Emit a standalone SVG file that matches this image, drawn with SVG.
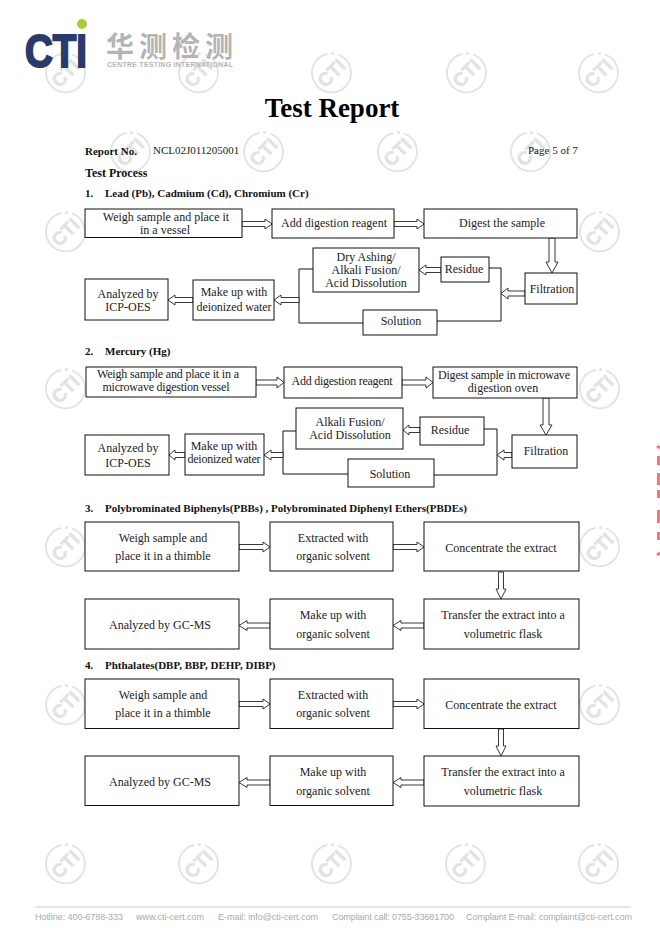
<svg xmlns="http://www.w3.org/2000/svg" xmlns:xlink="http://www.w3.org/1999/xlink" width="660" height="940" viewBox="0 0 660 940">
<style>
.b{fill:#fff;stroke:#111;stroke-width:1}
.t{font:12px "Liberation Serif",serif;fill:#222;text-anchor:middle}
.h{font:bold 11px "Liberation Serif",serif;fill:#111}
.n{font:11px "Liberation Serif",serif;fill:#222}
.a{fill:#fff;stroke:#222;stroke-width:.9}
.l{fill:none;stroke:#111;stroke-width:1}
.f{font:9px "Liberation Sans",sans-serif;fill:#aaa}
.wm text{font:bold 19px "Liberation Sans",sans-serif;fill:#e2e2e2;stroke:#e2e2e2;stroke-width:.5;text-anchor:middle}
</style>
<defs>
<g id="w" class="wm"><path d="M7 -18.500A19.500 19.500 0 1 1 -3.500 -19.200" fill="none" stroke="#e2e2e2" stroke-width="1.800"/><circle cx="1.500" cy="-19.500" r="1.500" fill="#e2e2e2"/><text transform="rotate(-45)" y="7">CTI</text></g>
</defs>
<rect width="660" height="940" fill="#fff"/>
<g id="watermarks">
<use xlink:href="#w" x="65" y="73"/><use xlink:href="#w" x="198" y="73"/><use xlink:href="#w" x="331" y="73"/><use xlink:href="#w" x="466" y="73"/><use xlink:href="#w" x="598" y="73"/>
<use xlink:href="#w" x="130" y="152"/><use xlink:href="#w" x="263" y="152"/><use xlink:href="#w" x="397" y="152"/><use xlink:href="#w" x="530" y="152"/>
<use xlink:href="#w" x="65" y="232"/><use xlink:href="#w" x="599" y="232"/>
<use xlink:href="#w" x="65" y="389"/><use xlink:href="#w" x="599" y="389"/>
<use xlink:href="#w" x="65" y="547"/><use xlink:href="#w" x="599" y="547"/>
<use xlink:href="#w" x="65" y="705"/><use xlink:href="#w" x="599" y="705"/>
<use xlink:href="#w" x="65" y="864"/><use xlink:href="#w" x="198" y="864"/><use xlink:href="#w" x="331" y="864"/><use xlink:href="#w" x="465" y="864"/><use xlink:href="#w" x="598" y="864"/>
</g>
<g id="logo">
<text x="25" y="67" font-family="Liberation Sans,sans-serif" font-weight="bold" font-size="46" fill="#2a3a6b" stroke="#2a3a6b" stroke-width="2" textLength="62" lengthAdjust="spacingAndGlyphs">CTI</text>
<circle cx="82" cy="24" r="5" fill="#a6ce39"/>
<text x="106" y="57" font-family="Noto Sans CJK SC,sans-serif" font-weight="700" font-size="28" fill="#b4b4b4" textLength="127">华测检测</text>
<text x="107" y="67" font-family="Liberation Sans,sans-serif" font-weight="bold" font-size="7" fill="#b4b4b4" textLength="126">CENTRE TESTING INTERNATIONAL</text>
</g>
<text x="332" y="117" font-family="Liberation Serif,serif" font-weight="bold" font-size="27" text-anchor="middle" fill="#000">Test Report</text>
<text class="h" x="85" y="155">Report No.</text>
<text class="n" x="153" y="154">NCL02J011205001</text>
<text class="n" x="528" y="154">Page 5 of 7</text>
<text class="h" x="85" y="177" style="font-size:12px">Test Process</text>
<text class="h" x="85" y="197">1.</text><text class="h" x="105" y="197">Lead (Pb), Cadmium (Cd), Chromium (Cr)</text>
<text class="h" x="85" y="355">2.</text><text class="h" x="105" y="355">Mercury (Hg)</text>
<text class="h" x="85" y="512">3.</text><text class="h" x="105" y="512">Polybrominated Biphenyls(PBBs) , Polybrominated Diphenyl Ethers(PBDEs)</text>
<text class="h" x="85" y="669">4.</text><text class="h" x="105" y="669">Phthalates(DBP, BBP, DEHP, DIBP)</text>

<g id="connectors">
<path class="l" d="M313 269H299V323H363M489 268H501V321H437"/>
<path class="l" d="M296 431H283V474H348M484 429H497V475H434"/>
<polygon class="a" points="242,221.500 265,221.500 265,219 272,224 265,229 265,226.500 242,226.500"/>
<polygon class="a" points="394,221.500 417,221.500 417,219 424,224 417,229 417,226.500 394,226.500"/>
<polygon class="a" points="549,238 555,238 555,262 558,262 552,273 546,262 549,262"/>
<polygon class="a" points="525,291 508,291 508,288 501,293.500 508,299 508,296 525,296"/>
<polygon class="a" points="441,267.500 426,267.500 426,265 419,270 426,275 426,272.500 441,272.500"/>
<polygon class="a" points="299,297.500 281,297.500 281,295 274,300 281,305 281,302.500 299,302.500"/>
<polygon class="a" points="193,297.500 175,297.500 175,295 168,300 175,305 175,302.500 193,302.500"/>
<polygon class="a" points="256,380 277,380 277,377 284,382.500 277,388 277,385 256,385"/>
<polygon class="a" points="402,380 426,380 426,377 433,382.500 426,388 426,385 402,385"/>
<polygon class="a" points="543,398 549,398 549,425 552,425 546,435 540,425 543,425"/>
<polygon class="a" points="512,452.500 504,452.500 504,450 497,455 504,460 504,457.500 512,457.500"/>
<polygon class="a" points="420,427.500 409,427.500 409,425 403,430 409,435 409,432.500 420,432.500"/>
<polygon class="a" points="283,452.500 271,452.500 271,450 264,455 271,460 271,457.500 283,457.500"/>
<polygon class="a" points="185,452.500 175,452.500 175,450 169,455 175,460 175,457.500 185,457.500"/>
<polygon class="a" points="239,544.500 263,544.500 263,542 270,547 263,552 263,549.500 239,549.500"/>
<polygon class="a" points="393,544.500 417,544.500 417,542 424,547 417,552 417,549.500 393,549.500"/>
<polygon class="a" points="498.500,572 503.500,572 503.500,589 506,589 501,599 496,589 498.500,589"/>
<polygon class="a" points="424,623 401,623 401,620.500 393,625.500 401,630.500 401,628 424,628"/>
<polygon class="a" points="270,623 247,623 247,620.500 239,625.500 247,630.500 247,628 270,628"/>
<polygon class="a" points="239,701.500 263,701.500 263,699 270,704 263,709 263,706.500 239,706.500"/>
<polygon class="a" points="393,701.500 417,701.500 417,699 424,704 417,709 417,706.500 393,706.500"/>
<polygon class="a" points="498.500,729 503.500,729 503.500,746 506,746 501,756 496,746 498.500,746"/>
<polygon class="a" points="424,780 401,780 401,777.500 393,782.500 401,787.500 401,785 424,785"/>
<polygon class="a" points="270,780 247,780 247,777.500 239,782.500 247,787.500 247,785 270,785"/>
</g>

<g id="n1-1"><rect class="b" x="85" y="209" width="157" height="28.500"/><text class="t" x="166" y="221">Weigh sample and place it</text><text class="t" x="165" y="234">in a vessel</text></g>
<g id="n1-2"><rect class="b" x="272" y="209" width="122" height="29"/><text class="t" x="334" y="227">Add digestion reagent</text></g>
<g id="n1-3"><rect class="b" x="424" y="209" width="153" height="29"/><text class="t" x="502" y="227">Digest the sample</text></g>
<g id="n1-4"><rect class="b" x="313" y="248" width="106" height="44"/><text class="t" x="366" y="261">Dry Ashing/</text><text class="t" x="366" y="274">Alkali Fusion/</text><text class="t" x="366" y="287">Acid Dissolution</text></g>
<g id="n1-5"><rect class="b" x="441" y="257" width="48" height="25"/><text class="t" x="464" y="273">Residue</text></g>
<g id="n1-6"><rect class="b" x="525" y="273" width="52" height="31"/><text class="t" x="552" y="293">Filtration</text></g>
<g id="n1-7"><rect class="b" x="363" y="310" width="74" height="25"/><text class="t" x="401" y="325">Solution</text></g>
<g id="n1-8"><rect class="b" x="193" y="280" width="81" height="40"/><text class="t" x="234" y="296">Make up with</text><text class="t" x="234" y="311" textLength="75">deionized water</text></g>
<g id="n1-9"><rect class="b" x="85" y="279" width="83" height="41"/><text class="t" x="128" y="298">Analyzed by</text><text class="t" x="128" y="311">ICP-OES</text></g>

<g id="n2-1"><rect class="b" x="86" y="367" width="170" height="30"/><text class="t" x="168" y="378" textLength="142">Weigh sample and place it in a</text><text class="t" x="166" y="391" textLength="127">microwave digestion vessel</text></g>
<g id="n2-2"><rect class="b" x="284" y="367" width="118" height="31"/><text class="t" x="342" y="385" textLength="101">Add digestion reagent</text></g>
<g id="n2-3"><rect class="b" x="433" y="367" width="144" height="31"/><text class="t" x="504" y="379" textLength="132">Digest sample in microwave</text><text class="t" x="503" y="392">digestion oven</text></g>
<g id="n2-4"><rect class="b" x="296" y="408" width="107" height="41"/><text class="t" x="350" y="426">Alkali Fusion/</text><text class="t" x="350" y="439">Acid Dissolution</text></g>
<g id="n2-5"><rect class="b" x="420" y="417" width="64" height="28"/><text class="t" x="450" y="434">Residue</text></g>
<g id="n2-6"><rect class="b" x="512" y="435" width="65" height="33"/><text class="t" x="546" y="455">Filtration</text></g>
<g id="n2-7"><rect class="b" x="348" y="459" width="86" height="28"/><text class="t" x="390" y="478">Solution</text></g>
<g id="n2-8"><rect class="b" x="185" y="434" width="79" height="41"/><text class="t" x="224" y="450">Make up with</text><text class="t" x="224" y="463" textLength="73">deionized water</text></g>
<g id="n2-9"><rect class="b" x="85" y="435" width="84" height="40"/><text class="t" x="128" y="452">Analyzed by</text><text class="t" x="128" y="467">ICP-OES</text></g>

<g id="n3-1"><rect class="b" x="85" y="522" width="154" height="49"/><text class="t" x="163" y="542">Weigh sample and</text><text class="t" x="163" y="560">place it in a thimble</text></g>
<g id="n3-2"><rect class="b" x="270" y="522" width="123" height="49"/><text class="t" x="333" y="542">Extracted with</text><text class="t" x="333" y="560">organic solvent</text></g>
<g id="n3-3"><rect class="b" x="424" y="522" width="155" height="49"/><text class="t" x="501" y="552">Concentrate the extract</text></g>
<g id="n3-4"><rect class="b" x="424" y="599" width="155" height="50"/><text class="t" x="503" y="619">Transfer the extract into a</text><text class="t" x="503" y="638">volumetric flask</text></g>
<g id="n3-5"><rect class="b" x="270" y="599" width="123" height="50"/><text class="t" x="333" y="619">Make up with</text><text class="t" x="333" y="638">organic solvent</text></g>
<g id="n3-6"><rect class="b" x="85" y="599" width="154" height="50"/><text class="t" x="160" y="629">Analyzed by GC-MS</text></g>

<g id="n4-1"><rect class="b" x="85" y="679" width="154" height="49.500"/><text class="t" x="163" y="699">Weigh sample and</text><text class="t" x="163" y="717">place it in a thimble</text></g>
<g id="n4-2"><rect class="b" x="270" y="679" width="123" height="49.500"/><text class="t" x="333" y="699">Extracted with</text><text class="t" x="333" y="717">organic solvent</text></g>
<g id="n4-3"><rect class="b" x="424" y="679" width="155" height="49.500"/><text class="t" x="501" y="709">Concentrate the extract</text></g>
<g id="n4-4"><rect class="b" x="424" y="756" width="155" height="50"/><text class="t" x="503" y="776">Transfer the extract into a</text><text class="t" x="503" y="795">volumetric flask</text></g>
<g id="n4-5"><rect class="b" x="270" y="756" width="123" height="49.500"/><text class="t" x="333" y="776">Make up with</text><text class="t" x="333" y="795">organic solvent</text></g>
<g id="n4-6"><rect class="b" x="85" y="756" width="154" height="49.500"/><text class="t" x="160" y="786">Analyzed by GC-MS</text></g>

<g id="footer">
<line x1="35" y1="907" x2="631" y2="907" stroke="#ccc" stroke-width="1"/>
<text class="f" x="35" y="920" textLength="88">Hotline: 400-6788-333</text>
<text class="f" x="136" y="920" textLength="68">www.cti-cert.com</text>
<text class="f" x="218" y="920" textLength="100">E-mail: info@cti-cert.com</text>
<text class="f" x="332" y="920" textLength="122">Complaint call: 0755-33681700</text>
<text class="f" x="466" y="920" textLength="166">Complaint E-mail: complaint@cti-cert.com</text>
</g>
<g id="seal" fill="none" stroke="#ee3b4a" stroke-width="3" opacity=".7">
<path d="M657 446l3 2M658.500 456v9M658.500 473v12M658.500 490v8M658.500 510v13M658.500 532v8M657 555l3-2"/>
</g>
</svg>
